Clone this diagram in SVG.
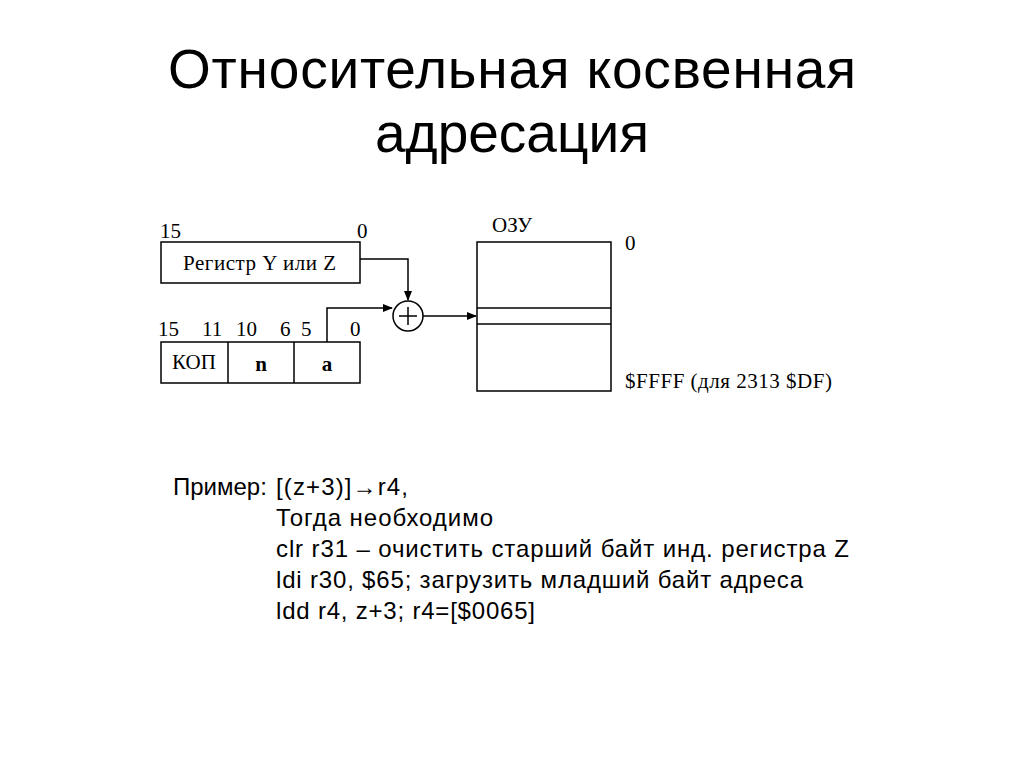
<svg xmlns="http://www.w3.org/2000/svg" width="1024" height="767" viewBox="0 0 1024 767">
<style>
.t{font-family:"Liberation Sans",Arial,sans-serif;fill:#000}
.s{font-family:"Liberation Serif","Times New Roman",serif;fill:#000;font-size:21px}
.b{fill:#fff;stroke:#000;stroke-width:1.5}
.c{fill:none;stroke:#000;stroke-width:1.5}
</style>
<defs><marker id="a" markerWidth="10" markerHeight="8" refX="9" refY="4" orient="auto" markerUnits="userSpaceOnUse"><path d="M0,0L10,4L0,8z" fill="#000"/></marker></defs>
<rect width="1024" height="767" fill="#fff"/>
<text class="t" x="512" y="88" font-size="55" text-anchor="middle" textLength="688">Относительная косвенная</text>
<text class="t" x="512" y="152" font-size="55" text-anchor="middle">адресация</text>
<g id="reg"><rect class="b" x="161" y="242" width="199" height="41"/><text class="s" x="183" y="270" textLength="153">Регистр Y или Z</text>
<text class="s" x="160" y="238">15</text><text class="s" x="357" y="238">0</text></g>
<g id="instr"><rect class="b" x="161" y="342" width="199" height="41"/><line class="c" x1="228" y1="342" x2="228" y2="383"/><line class="c" x1="294" y1="342" x2="294" y2="383"/>
<text class="s" x="194" y="369" text-anchor="middle" font-size="17">КОП</text><text class="s" x="261" y="371" text-anchor="middle" font-weight="bold">n</text><text class="s" x="327" y="371" text-anchor="middle" font-weight="bold">a</text>
<text class="s" x="158" y="336">15</text><text class="s" x="202" y="336">11</text><text class="s" x="236" y="336">10</text><text class="s" x="280" y="336">6</text><text class="s" x="301" y="336">5</text><text class="s" x="350" y="336">0</text></g>
<g id="sum"><circle class="c" cx="408" cy="316" r="15"/><path class="c" d="M399,316h18M408,307v18"/></g>
<g id="ram"><rect class="b" x="477" y="242" width="134" height="149"/><line class="c" x1="477" y1="308" x2="611" y2="308"/><line class="c" x1="477" y1="324" x2="611" y2="324"/>
<text class="s" x="492" y="232">ОЗУ</text><text class="s" x="625" y="250">0</text><text class="s" x="625" y="388" textLength="207">$FFFF (для 2313 $DF)</text></g>
<g id="conn">
<path class="c" d="M360,259H408V300" marker-end="url(#a)"/>
<path class="c" d="M327,342V308H392" marker-end="url(#a)"/>
<path class="c" d="M423,316H476" marker-end="url(#a)"/>
</g>
<g font-size="24">
<text class="t" x="173" y="495">Пример:</text>
<text class="t" x="276" y="495" textLength="132">[(z+3)]→r4,</text>
<text class="t" x="276" y="526" textLength="217">Тогда необходимо</text>
<text class="t" x="276" y="557" textLength="573">clr r31 – очистить старший байт инд. регистра Z</text>
<text class="t" x="276" y="588" textLength="527">ldi r30, $65; загрузить младший байт адреса</text>
<text class="t" x="276" y="619" textLength="259">ldd r4, z+3; r4=[$0065]</text>
</g>
</svg>
